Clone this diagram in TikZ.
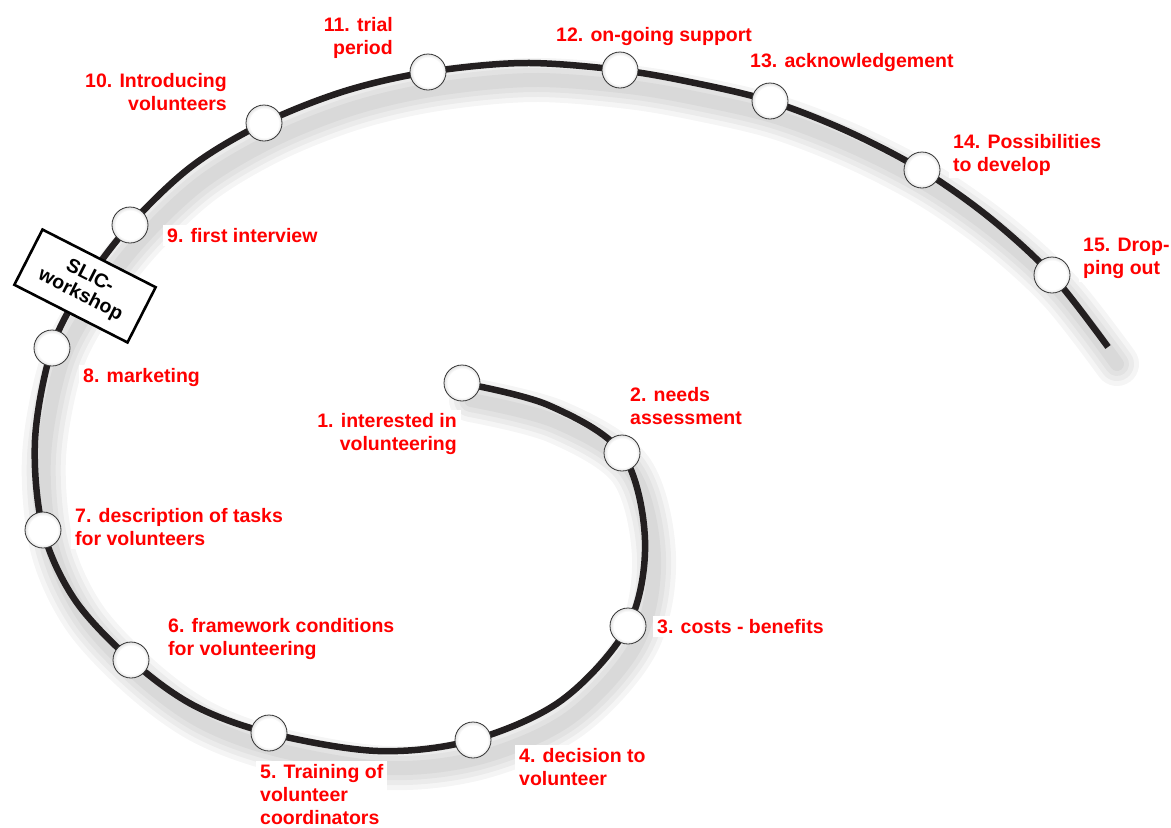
\documentclass[tikz,border=0pt]{standalone}
\usepackage{fontspec}
\setmainfont{Liberation Sans}
\definecolor{stepred}{HTML}{FF0000}
\definecolor{wire}{HTML}{231F20}
\pgfdeclareradialshading{beadshade}{\pgfpoint{0bp}{0bp}}{color(0bp)=(white); color(20bp)=(white); color(33bp)=(black!30); color(43bp)=(black!62); color(50bp)=(black!78)}
\newcommand\spiralpath{plot[smooth,tension=0.55] coordinates {(p1) (m1) (p2) (m2) (p3) (m3) (p4) (m4) (p5) (m5) (p6) (m6) (p7) (m7) (p8) (m8) (p9) (m9) (p10) (m10) (p11) (m11) (p12) (m12) (p13) (m13) (p14) (m14) (p15) (tail)}}

\begin{document}
\begin{tikzpicture}[x=1pt,y=-1pt,
    lbl/.style={fill=white,text=stepred,font=\bfseries\fontsize{19.5}{23}\selectfont,
                inner xsep=4pt,inner ysep=3pt},
    bead/.style={circle,minimum size=36pt,inner sep=0pt,shading=beadshade,
                 draw=black!80,line width=0.8pt},
    workshop/.style={draw,line width=2.6pt,fill=white,rotate=-27,minimum width=127pt,
                     minimum height=62pt,align=center,inner sep=2pt,
                     font=\bfseries\fontsize{19.5}{21}\selectfont},
    spiral/.style={line width=6.5pt,wire}]
    \useasboundingbox (0,0) rectangle (1171,828);
    % points on the spiral
    \coordinate (p1) at (462,383);  \coordinate (m1) at (548,405);
    \coordinate (p2) at (622,453);  \coordinate (m2) at (645,540);
    \coordinate (p3) at (628,626);  \coordinate (m3) at (562,700);
    \coordinate (p4) at (473,740);  \coordinate (m4) at (378,751);
    \coordinate (p5) at (269,733);  \coordinate (m5) at (193,705);
    \coordinate (p6) at (131,660);  \coordinate (m6) at (75,600);
    \coordinate (p7) at (43,530);   \coordinate (m7) at (35,440);
    \coordinate (p8) at (52,348);   \coordinate (m8) at (84,286);
    \coordinate (p9) at (130,225);  \coordinate (m9) at (192,166);
    \coordinate (p10) at (264,123); \coordinate (m10) at (345,91);
    \coordinate (p11) at (428,72);  \coordinate (m11) at (524,63);
    \coordinate (p12) at (620,70);  \coordinate (m12) at (695,83);
    \coordinate (p13) at (770,101); \coordinate (m13) at (847,131);
    \coordinate (p14) at (922,170); \coordinate (m14) at (990,218);
    \coordinate (p15) at (1052,275);\coordinate (tail) at (1108,347);
    % soft shadow
    \begin{scope}[transform canvas={shift={(9,17)}}]
      \foreach \w in {44,34,24,14}
        \draw[line width=\w pt,black,opacity=0.04,line cap=round] \spiralpath;
    \end{scope}
    % labels
    \node[lbl,anchor=north east,align=right] (l1) at (461,410) {1. interested in\\volunteering};
    \node[lbl,anchor=north west,align=left] (l2) at (626,384) {2. needs\\assessment};
    \node[lbl,anchor=north west] (l3) at (653,616) {3. costs - benefits};
    \node[lbl,anchor=north west,align=left] (l4) at (515,745) {4. decision to\\volunteer};
    \node[lbl,anchor=north west,align=left] (l5) at (256,761) {5. Training of\\volunteer\\coordinators};
    \node[lbl,anchor=north west,align=left] (l6) at (164,615) {6. framework conditions\\for volunteering};
    \node[lbl,anchor=north west,align=left] (l7) at (71,505) {7. description of tasks\\for volunteers};
    \node[lbl,anchor=north west] (l8) at (79,365) {8. marketing};
    \node[lbl,anchor=north west] (l9) at (163,225) {9. first interview};
    \node[lbl,anchor=north east,align=right] (l10) at (231,70) {10. Introducing\\volunteers};
    \node[lbl,anchor=north east,align=right] (l11) at (397,14) {11. trial\\period};
    \node[lbl,anchor=north west] (l12) at (552,24) {12. on-going support};
    \node[lbl,anchor=north west] (l13) at (746,50) {13. acknowledgement};
    \node[lbl,anchor=north west,align=left] (l14) at (949,131) {14. Possibilities\\to develop};
    \node[lbl,anchor=north west,align=left] (l15) at (1079,235) {15. Drop-\\ping out};
    % the spiral itself
    \draw[spiral] \spiralpath;
    \node[workshop] (slic) at (85,286) {SLIC-\\workshop};
    \node[bead] (b1) at (p1) {};   \node[bead] (b2) at (p2) {};
    \node[bead] (b3) at (p3) {};   \node[bead] (b4) at (p4) {};
    \node[bead] (b5) at (p5) {};   \node[bead] (b6) at (p6) {};
    \node[bead] (b7) at (p7) {};   \node[bead] (b8) at (p8) {};
    \node[bead] (b9) at (p9) {};   \node[bead] (b10) at (p10) {};
    \node[bead] (b11) at (p11) {}; \node[bead] (b12) at (p12) {};
    \node[bead] (b13) at (p13) {}; \node[bead] (b14) at (p14) {};
    \node[bead] (b15) at (p15) {};
\end{tikzpicture}
\end{document}
